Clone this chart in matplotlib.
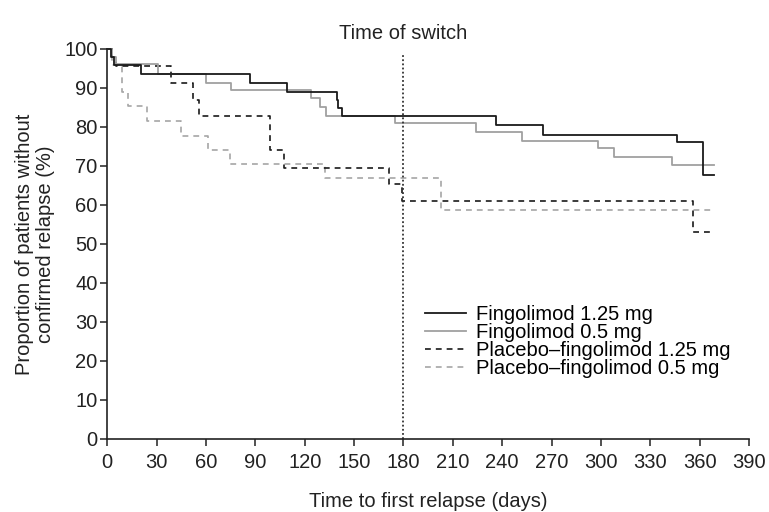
import matplotlib
matplotlib.use('Agg')
import matplotlib.pyplot as plt

plt.rcParams['font.family'] = ['Liberation Sans', 'DejaVu Sans']

# Kaplan-Meier step data (days, % without relapse)
fin125_t = [0, 2, 4, 20.5, 87, 109, 139.5, 140.5, 142.5, 236, 265, 346, 362, 369]
fin125_s = [100, 98, 96.0, 93.6, 91.3, 89.1, 87.0, 84.9, 82.8, 80.4, 78.0, 76.1, 67.6, 67.6]

fin05_t = [0, 3, 5, 31, 60, 75, 124, 129, 133, 175, 224, 252, 298, 308, 343, 369]
fin05_s = [100, 98, 96.2, 93.6, 91.4, 89.4, 87.4, 85.1, 82.8, 80.9, 78.7, 76.5, 74.5, 72.3, 70.2, 70.2]

pla125_t = [0, 3, 5, 38.5, 52, 56, 99, 107.5, 171, 179, 356, 368]
pla125_s = [100, 98, 95.7, 91.3, 87.0, 82.8, 74.0, 69.6, 65.3, 60.9, 53.2, 53.2]

pla05_t = [0, 3, 9, 12.8, 24, 45, 61, 74.5, 132.5, 203, 367]
pla05_s = [100, 96, 89, 85.3, 81.6, 77.7, 74.1, 70.4, 66.8, 58.7, 58.7]

labels = ['Fingolimod 1.25 mg', 'Fingolimod 0.5 mg',
          'Placebo\u2013fingolimod 1.25 mg', 'Placebo\u2013fingolimod 0.5 mg']
switch_day = 180
xticks = list(range(0, 391, 30))
yticks = list(range(0, 101, 10))

fs = 14.5
fig = plt.figure(figsize=(7.69, 5.12), dpi=100)
ax = fig.add_axes([0.1395, 0.1426, 0.8345, 0.7617])

dash = (0, (3.5, 3))
ax.plot(pla05_t, pla05_s, drawstyle='steps-post', color='#a6a6a6', lw=1.2,
        linestyle=dash, label=labels[3], clip_on=False)
ax.plot(pla125_t, pla125_s, drawstyle='steps-post', color='#1a1a1a', lw=1.2,
        linestyle=dash, label=labels[2], clip_on=False)
ax.plot(fin05_t, fin05_s, drawstyle='steps-post', color='#a0a0a0', lw=1.3,
        label=labels[1], clip_on=False)
ax.plot(fin125_t, fin125_s, drawstyle='steps-post', color='#1a1a1a', lw=1.3,
        label=labels[0], clip_on=False)

ax.plot([switch_day, switch_day], [0, 98.5], color='#333333', lw=1.3,
        linestyle=(0, (1, 1.3)))
ax.text(switch_day, 102.6, 'Time of switch', ha='center', va='baseline',
        fontsize=fs, color='#222222')

ax.set_xlim(0, 390)
ax.set_ylim(0, 100)
ax.set_xticks(xticks)
ax.set_yticks(yticks)
for s in ['top', 'right']:
    ax.spines[s].set_visible(False)
for s in ['left', 'bottom']:
    ax.spines[s].set_linewidth(1.2)
    ax.spines[s].set_color('#222222')
ax.tick_params(axis='x', length=5, width=1.1, pad=5, labelsize=fs, colors='#222222')
ax.tick_params(axis='y', length=5, width=1.1, pad=2, labelsize=fs, colors='#222222')

ax.set_xlabel('Time to first relapse (days)', fontsize=fs, color='#222222',
              va='center')
ax.xaxis.set_label_coords(0.5, -0.1615)
ax.set_ylabel('Proportion of patients without\nconfirmed relapse (%)', fontsize=fs,
              color='#222222', ha='center', va='center', rotation_mode='default',
              linespacing=1.12)
ax.yaxis.set_label_coords(-0.113, 0.5)

h, l = ax.get_legend_handles_labels()
order = [3, 2, 1, 0]
ax.legend([h[i] for i in order], [l[i] for i in order], loc='upper left',
          bbox_to_anchor=(0.495, 0.343), frameon=False, fontsize=fs,
          borderpad=0, borderaxespad=0, handlelength=2.05, handletextpad=0.5,
          labelspacing=-0.05)

fig.savefig('out.png', dpi=100)
